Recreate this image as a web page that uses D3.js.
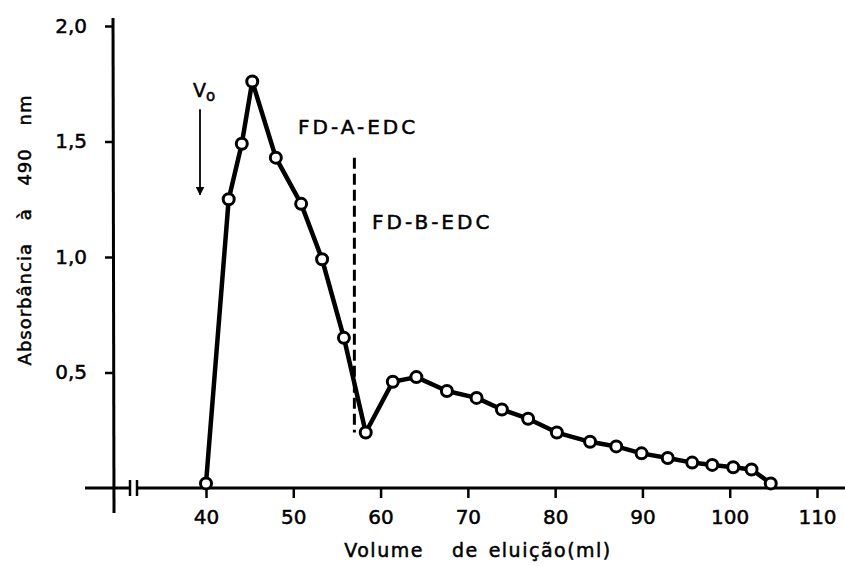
<!DOCTYPE html>
<html>
<head>
<meta charset="utf-8">
<script src="https://cdn.jsdelivr.net/npm/d3@7"></script>
<style>
    body { margin: 0; background: #fff; }
    svg { display: block; }
    text { font-family: "DejaVu Sans", sans-serif; fill: #000; stroke: #000; stroke-width: 0.5px; }
</style>
</head>
<body>
<div id="chart"></div>
<script>
// volume de eluição (ml) e absorbância a 490 nm
const volume = [40, 42.6, 44.1, 45.3, 48.0, 50.9, 53.3, 55.8, 58.3, 61.4, 64.1, 67.6, 71.0,
    73.9, 76.9, 80.2, 84.0, 87.0, 89.9, 92.9, 95.7, 98.0, 100.4, 102.5, 104.7];
const absorbance = [0.02, 1.25, 1.49, 1.76, 1.43, 1.23, 0.99, 0.65, 0.24, 0.46, 0.48, 0.42, 0.39,
    0.34, 0.30, 0.24, 0.20, 0.18, 0.15, 0.13, 0.11, 0.10, 0.09, 0.08, 0.02];

const xTicks = [40, 50, 60, 70, 80, 90, 100, 110];
const yTicks = [0.5, 1.0, 1.5, 2.0];

// divisão entre frações e marca do volume morto
const dividerVolume = 57;
const dividerRange = [0.24, 1.43];
const voidVolume = 40;
const voidArrow = [1.64, 1.27];

const width = 845, height = 566;

const svg = d3.select("#chart")
    .append("svg")
    .attr("width", width)
    .attr("height", height);

const x = d3.scaleLinear().domain([40, 110]).range([206, 817]);
const y = d3.scaleLinear().domain([0, 2]).range([488, 26]);

const fmt = d => d.toFixed(1).replace(".", ",");

// axes
svg.append("line")
    .attr("x1", 113).attr("x2", 114)
    .attr("y1", 18).attr("y2", 513)
    .style("stroke", "#000").style("stroke-width", 3);

svg.append("line")
    .attr("x1", 85).attr("x2", 130)
    .attr("y1", y(0)).attr("y2", y(0))
    .style("stroke", "#000").style("stroke-width", 3);
svg.append("line")
    .attr("x1", 138).attr("x2", width)
    .attr("y1", y(0)).attr("y2", y(0))
    .style("stroke", "#000").style("stroke-width", 3);
[130, 137].forEach(bx => {
    svg.append("line")
        .attr("x1", bx).attr("x2", bx)
        .attr("y1", y(0) - 8).attr("y2", y(0) + 8)
        .style("stroke", "#000").style("stroke-width", 2.5);
});

const yAxis = svg.append("g")
    .attr("class", "y-axis")
    .attr("transform", "translate(113,0)")
    .call(d3.axisLeft(y).tickValues(yTicks).tickFormat(fmt).tickSize(8).tickPadding(18));

const xAxis = svg.append("g")
    .attr("class", "x-axis")
    .attr("transform", `translate(0,${y(0)})`)
    .call(d3.axisBottom(x).tickValues(xTicks).tickFormat(d3.format("d")).tickSize(10).tickPadding(12));

[yAxis, xAxis].forEach(a => {
    a.select(".domain").remove();
    a.selectAll(".tick line").style("stroke", "#000").style("stroke-width", 2.5);
    a.selectAll(".tick text").style("font-size", "20px").style("font-family", "DejaVu Sans");
});

// axis titles
svg.append("text")
    .attr("transform", "translate(31,230) rotate(-90)")
    .attr("text-anchor", "middle")
    .style("font-size", "18px")
    .style("letter-spacing", "1px")
    .style("word-spacing", "16px")
    .text("Absorbância à 490 nm");

const xTitle = svg.append("text")
    .attr("x", 478)
    .attr("y", 557)
    .attr("text-anchor", "middle")
    .style("font-size", "19px")
    .style("letter-spacing", "1.5px");
xTitle.append("tspan").text("Volume");
xTitle.append("tspan").attr("dx", 28).text("de");
xTitle.append("tspan").attr("dx", 10).text("eluição(ml)");

// dashed divider between fractions
svg.append("line")
    .attr("x1", x(dividerVolume)).attr("x2", x(dividerVolume))
    .attr("y1", y(dividerRange[1])).attr("y2", y(dividerRange[0]))
    .style("stroke", "#000")
    .style("stroke-width", 3)
    .style("stroke-dasharray", "11,5");

svg.append("text")
    .attr("x", 298).attr("y", 134)
    .style("font-size", "20px")
    .style("letter-spacing", "3px")
    .text("FD-A-EDC");

svg.append("text")
    .attr("x", 372).attr("y", 229)
    .style("font-size", "20px")
    .style("letter-spacing", "3px")
    .text("FD-B-EDC");

// Vo arrow
svg.append("defs").append("marker")
    .attr("id", "arrow")
    .attr("viewBox", "0 0 10 10")
    .attr("refX", 9).attr("refY", 5)
    .attr("markerWidth", 5).attr("markerHeight", 5)
    .attr("orient", "auto")
    .append("path")
    .attr("d", "M0,0L10,5L0,10z")
    .style("fill", "#000");

const vx = x(voidVolume) - 6;
svg.append("line")
    .attr("x1", vx).attr("x2", vx)
    .attr("y1", y(voidArrow[0])).attr("y2", y(voidArrow[1]))
    .style("stroke", "#000").style("stroke-width", 1.8)
    .attr("marker-end", "url(#arrow)");

const vLabel = svg.append("text")
    .attr("x", vx - 7).attr("y", 97)
    .style("font-size", "19px");
vLabel.append("tspan").text("V");
vLabel.append("tspan").attr("dy", 4).style("font-size", "15px").text("o");

// elution profile
const data = volume.map((v, i) => ({ v: v, a: absorbance[i] }));

const line = d3.line()
    .x(d => x(d.v))
    .y(d => y(d.a));

svg.append("path")
    .datum(data)
    .attr("class", "line")
    .attr("d", line)
    .style("fill", "none")
    .style("stroke", "#000")
    .style("stroke-width", 4.5)
    .style("stroke-linejoin", "round");

svg.selectAll(".point")
    .data(data)
    .enter().append("circle")
    .attr("class", "point")
    .attr("r", 5.5)
    .attr("cx", d => x(d.v))
    .attr("cy", d => y(d.a))
    .style("fill", "#fff")
    .style("stroke", "#000")
    .style("stroke-width", 3);
</script>
</body>
</html>
